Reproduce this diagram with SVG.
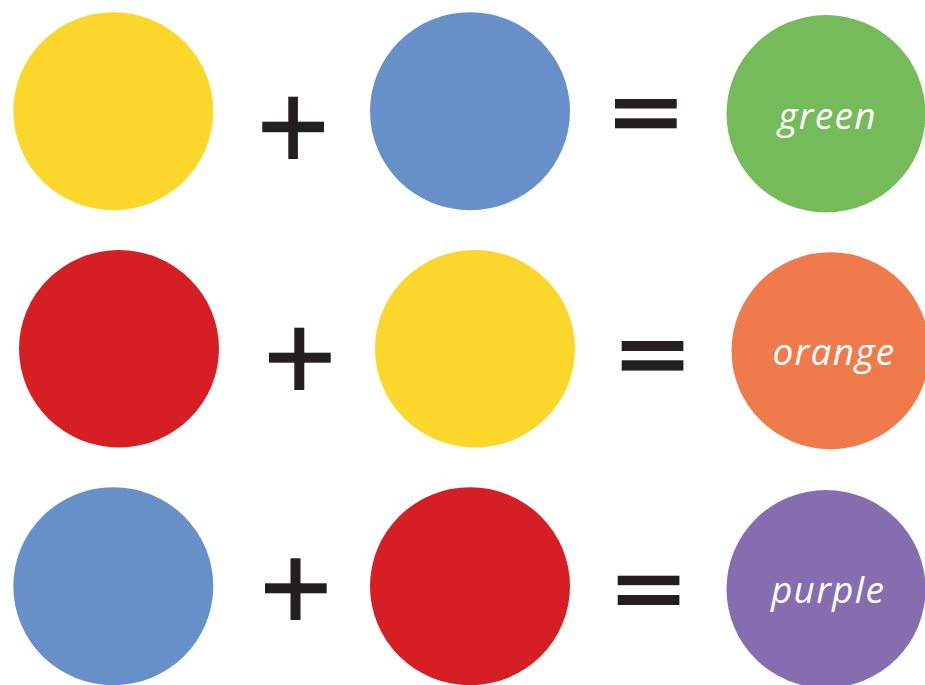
<svg xmlns="http://www.w3.org/2000/svg" width="925" height="685" viewBox="0 0 925 685">
<style>
.y{fill:#FBD72B}.b{fill:#6790C9}.r{fill:#D61F24}.g{fill:#75BB59}.o{fill:#EF7A4B}.p{fill:#866DAF}
.op{fill:#231F20}
.lbl{fill:#FFFFFF;font-family:"Open Sans","Noto Sans",sans-serif;font-style:italic;font-size:37px;letter-spacing:1.3px;text-anchor:middle}
</style>
<rect width="925" height="685" fill="#FFFFFF"/>
<g id="row1">
<g id="yellow1"><ellipse class="y" cx="113.3" cy="111.2" rx="100" ry="99"/></g>
<g id="plus1" class="op"><rect x="288.3" y="96.7" width="9.6" height="62.3"/><rect x="262.3" y="121.7" width="61.7" height="10.5"/></g>
<g id="blue1"><ellipse class="b" cx="470" cy="111.2" rx="100" ry="99"/></g>
<g id="eq1" class="op"><rect x="615" y="99" width="61.7" height="9.5"/><rect x="615" y="118.3" width="61.7" height="10"/></g>
<g id="green"><ellipse class="g" cx="826" cy="113.7" rx="99.5" ry="98.7"/><text class="lbl" x="827.5" y="128.5">green</text></g>
</g>
<g id="row2">
<g id="red2"><ellipse class="r" cx="119" cy="348.7" rx="100" ry="98.7"/></g>
<g id="plus2" class="op"><rect x="294.3" y="327.7" width="10" height="62.3"/><rect x="269" y="352.7" width="61.7" height="10"/></g>
<g id="yellow2"><ellipse class="y" cx="475" cy="348.7" rx="100" ry="98.7"/></g>
<g id="eq2" class="op"><rect x="621.7" y="341" width="61.7" height="10"/><rect x="621.7" y="360.3" width="61.7" height="10.3"/></g>
<g id="orange"><ellipse class="o" cx="830.5" cy="350.7" rx="99" ry="98.5"/><text class="lbl" x="834" y="365">orange</text></g>
</g>
<g id="row3">
<g id="blue3"><ellipse class="b" cx="113.3" cy="586.2" rx="100" ry="99"/></g>
<g id="plus3" class="op"><rect x="290.5" y="558.3" width="10" height="61.7"/><rect x="265" y="583.3" width="61.7" height="10"/></g>
<g id="red3"><ellipse class="r" cx="470" cy="586.2" rx="100" ry="99"/></g>
<g id="eq3" class="op"><rect x="617.7" y="575.7" width="61.7" height="9.5"/><rect x="617.7" y="595" width="61.7" height="10"/></g>
<g id="purple"><ellipse class="p" cx="826" cy="589" rx="99.5" ry="99"/><text class="lbl" x="828" y="603">purple</text></g>
</g>
<g id="connectors"/>
</svg>
